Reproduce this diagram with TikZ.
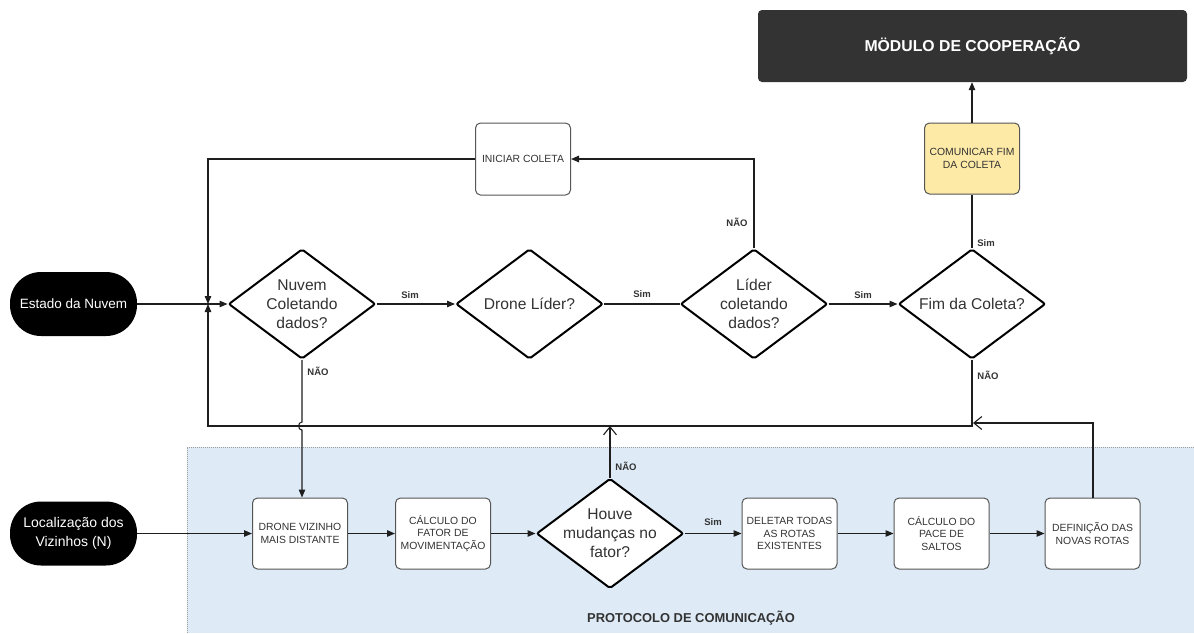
\documentclass[tikz,border=0pt]{standalone}
\usepackage{fontspec}
\setmainfont{Liberation Sans}
\usetikzlibrary{shapes.geometric,arrows.meta}
\definecolor{ink}{HTML}{333333}
\definecolor{wire}{HTML}{1E1E1E}
\definecolor{boxline}{HTML}{555555}
\definecolor{zone}{RGB}{222,235,247}
\definecolor{notice}{RGB}{254,234,167}
\definecolor{header}{HTML}{333333}
\begin{document}
\begin{tikzpicture}[x=1pt,y=-1pt,
  terminal/.style={rectangle, fill=black, rounded corners=31pt, text=white,
    minimum width=127pt, minimum height=64pt, align=center, inner sep=0pt},
  dec/.style={diamond, draw=black, line width=2pt, rounded corners=2pt, fill=white,
    minimum width=147pt, minimum height=110pt, inner sep=0pt},
  dtext/.style={align=center, text=ink, inner sep=0pt,
    font=\fontsize{15.6}{19}\selectfont},
  proc/.style={rectangle, draw=boxline, line width=1pt, rounded corners=5pt, fill=white,
    minimum width=95pt, minimum height=71pt, align=center, inner sep=1pt, text=ink,
    font=\fontsize{10.4}{12.7}\selectfont},
  tag/.style={text=ink, inner sep=0pt, font=\bfseries\fontsize{9.5}{11}\selectfont},
  link/.style={draw=wire, line width=1.1pt},
  arr/.style={link, -{Triangle[length=8pt,width=6.5pt]}},
  back/.style={link, -{Straight Barb[length=8pt,width=13pt,line width=1.1pt]}}
]
\useasboundingbox (0,0) rectangle (1194,633);

% communication protocol zone
\fill[zone] (187,447) rectangle (1194,633);
\draw[gray!75, line width=1pt, dash pattern=on 1pt off 1pt] (187,633) -- (187,447) -- (1194,447);
\node[text=ink, font=\bfseries\fontsize{12.9}{15}\selectfont] (zonelabel) at (691,618) {PROTOCOLO DE COMUNICAÇÃO};

% cooperation module
\node[rectangle, fill=header, rounded corners=4pt, minimum width=429pt, minimum height=72pt,
  text=white, font=\bfseries\fontsize{15.8}{18}\selectfont] (mod) at (972.5,46) {MÖDULO DE COOPERAÇÃO};

% upper flow
\node[terminal, font=\fontsize{13.5}{17}\selectfont] (estado) at (73.5,304) {Estado da Nuvem};
\node[dec, label={[dtext]center:{Nuvem\\Coletando\\dados?}}] (nuvem) at (302,304) {};
\node[dec, label={[dtext]center:{Drone Líder?}}] (lider) at (529.5,304) {};
\node[dec, label={[dtext]center:{Líder\\coletando\\dados?}}] (lidcol) at (754,304) {};
\node[dec, label={[dtext]center:{Fim da Coleta?}}] (fim) at (972,304) {};
\node[proc, minimum height=72pt] (ini) at (523,159) {INICIAR COLETA};
\node[proc, fill=notice] (com) at (972,158.5) {COMUNICAR FIM\\DA COLETA};

% lower flow
\node[terminal, font=\fontsize{14}{19}\selectfont] (loc) at (73.5,533.5) {Localização dos\\Vizinhos (N)};
\node[proc] (dvz) at (300,533.5) {DRONE VIZINHO\\MAIS DISTANTE};
\node[proc] (calc) at (443,533.5) {CÁLCULO DO\\FATOR DE\\MOVIMENTAÇÃO};
\node[dec, label={[dtext]center:{Houve\\mudanças no\\fator?}}] (houve) at (610,533.5) {};
\node[proc] (del) at (789.5,533.5) {DELETAR TODAS\\AS ROTAS\\EXISTENTES};
\node[proc] (pace) at (941.5,533.5) {CÁLCULO DO\\PACE DE\\SALTOS};
\node[proc] (def) at (1092.5,533.5) {DEFINIÇÃO DAS\\NOVAS ROTAS};

% junction and feedback points
\coordinate (jn) at (208,304);
\coordinate (fbR) at (972,426);
\coordinate (fbL) at (208,426);
\coordinate (fb2) at (973,423);
\coordinate (defup) at (1093,423);
\coordinate (hopA) at (302,422);
\coordinate (hopB) at (302,430);

% upper connectors
\draw[arr] (estado.east) -- (nuvem.west);
\draw[arr] (nuvem.east) -- (lider.west);
\draw[link] (lider.east) -- (lidcol.west);
\draw[arr] (lidcol.east) -- (fim.west);
\draw[arr] (lidcol.north) |- (ini.east);
\draw[arr] (ini.west) -| (jn);
\draw[link] (fim.north) -- (com.south);
\draw[arr] (com.north) -- (com.north |- mod.south);
\draw[arr] (fim.south) -- (fbR) -- (fbL) -- (jn);

% crossing into the protocol zone
\draw[arr] (nuvem.south) -- (hopA) .. controls (297.5,422) and (297.5,430) .. (hopB) -- (nuvem.south |- dvz.north);

% lower connectors
\draw[arr] (loc.east) -- (dvz.west);
\draw[arr] (dvz.east) -- (calc.west);
\draw[arr] (calc.east) -- (houve.west);
\draw[arr] (houve.east) -- (del.west);
\draw[arr] (del.east) -- (pace.west);
\draw[arr] (pace.east) -- (def.west);
\draw[back] (houve.north) -- (houve.north |- fbR);
\draw[back] (def.north -| defup) -- (defup) -- (fb2);

% branch labels
\node[tag] (s1) at (410,295) {Sim};
\node[tag] (s2) at (642,294) {Sim};
\node[tag] (s3) at (863,295) {Sim};
\node[tag] (s4) at (986,243) {Sim};
\node[tag] (s5) at (713,522) {Sim};
\node[tag] (n1) at (737,222) {NÃO};
\node[tag] (n2) at (318,371) {NÃO};
\node[tag] (n3) at (988,375) {NÃO};
\node[tag] (n4) at (626,466) {NÃO};
\end{tikzpicture}
\end{document}
